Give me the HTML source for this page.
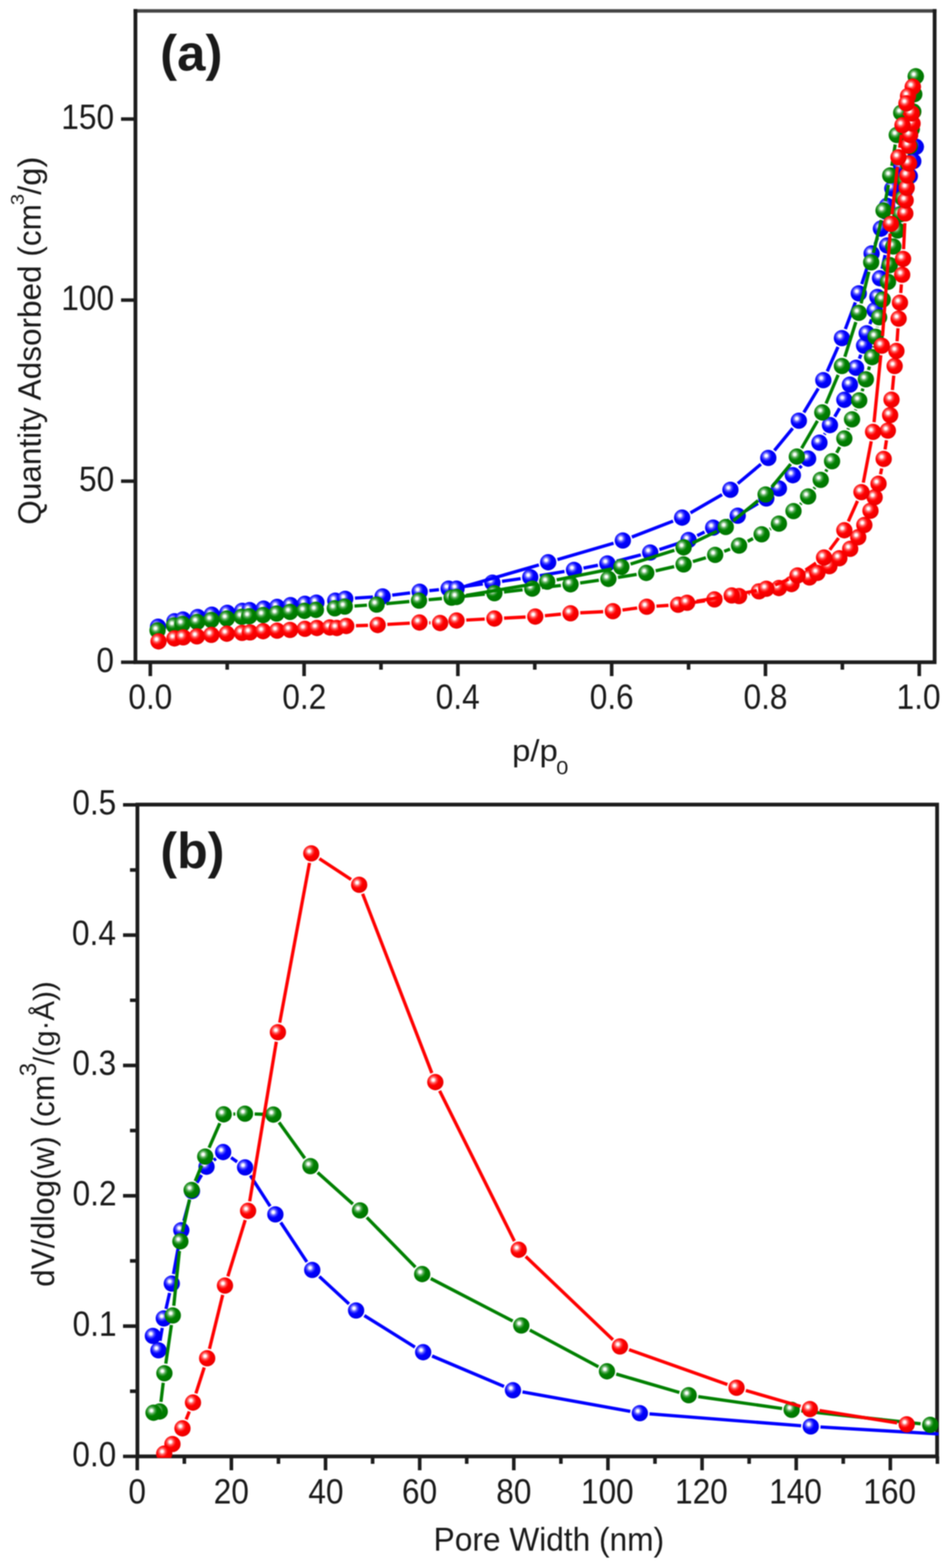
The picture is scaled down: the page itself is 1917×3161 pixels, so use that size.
<!DOCTYPE html>
<html><head><meta charset="utf-8"><title>Isotherm and pore size distribution</title>
<style>
html,body{margin:0;padding:0;background:#fff;}
body{width:1917px;height:3161px;overflow:hidden;}
svg{display:block;filter:blur(1px);}
text{font-family:"Liberation Sans", Arial, sans-serif;fill:#1a1a1a;}
</style></head>
<body>
<svg width="1917" height="3161" viewBox="0 0 1917 3161">
<rect width="1917" height="3161" fill="#fff"/>
<defs>
<radialGradient id="grb" cx="0.372" cy="0.366" r="0.73" fx="0.372" fy="0.366">
<stop offset="0" stop-color="#ffffff"/><stop offset="0.1" stop-color="#ffffff"/>
<stop offset="0.18" stop-color="#a6a6ff"/><stop offset="0.3" stop-color="#4747ff"/>
<stop offset="0.47" stop-color="#0000ff"/><stop offset="0.95" stop-color="#0000e6"/></radialGradient>
<symbol id="mb" overflow="visible"><circle cx="0" cy="0" r="16.4" fill="url(#grb)"/></symbol>
<radialGradient id="grg" cx="0.372" cy="0.366" r="0.73" fx="0.372" fy="0.366">
<stop offset="0" stop-color="#ffffff"/><stop offset="0.1" stop-color="#ffffff"/>
<stop offset="0.18" stop-color="#a6d3a6"/><stop offset="0.3" stop-color="#47a447"/>
<stop offset="0.47" stop-color="#008000"/><stop offset="0.95" stop-color="#007300"/></radialGradient>
<symbol id="mg" overflow="visible"><circle cx="0" cy="0" r="16.4" fill="url(#grg)"/></symbol>
<radialGradient id="grr" cx="0.372" cy="0.366" r="0.73" fx="0.372" fy="0.366">
<stop offset="0" stop-color="#ffffff"/><stop offset="0.1" stop-color="#ffffff"/>
<stop offset="0.18" stop-color="#ffa6a6"/><stop offset="0.3" stop-color="#ff4747"/>
<stop offset="0.47" stop-color="#ff0000"/><stop offset="0.95" stop-color="#e60000"/></radialGradient>
<symbol id="mr" overflow="visible"><circle cx="0" cy="0" r="16.4" fill="url(#grr)"/></symbol>
<clipPath id="clipA"><rect x="270" y="19" width="1617" height="1319"/></clipPath>
<clipPath id="clipB"><rect x="274" y="1619" width="1618" height="1320"/></clipPath>
</defs>
<text transform="translate(322.87 141.64) scale(1.0268 1.0170)" font-size="100" font-weight="bold" fill="#050505">(a)</text>
<text transform="translate(323.24 1750.49) scale(1.0110 1.0245)" font-size="100" font-weight="bold" fill="#050505">(b)</text>
<text transform="translate(1032.15 1534.02) scale(0.6641 0.6181)" font-size="100" font-weight="normal">p/p</text>
<text transform="translate(1121.25 1560.61) scale(0.4375 0.3944)" font-size="100" font-weight="normal">0</text>
<text transform="translate(874.09 3125.98) scale(0.6384 0.6628)" font-size="100" font-weight="normal">Pore Width (nm)</text>
<text transform="translate(82.44 1057.78) rotate(-90) scale(0.6354 0.6553)" font-size="100" font-weight="normal">Quantity Adsorbed (cm</text>
<text transform="translate(47.63 413.42) rotate(-90) scale(0.4043 0.3704)" font-size="100" font-weight="normal">3</text>
<text transform="translate(82.48 392.80) rotate(-90) scale(0.6613 0.6532)" font-size="100" font-weight="normal">/g)</text>
<text transform="translate(109.01 2594.14) rotate(-90) scale(0.6355 0.6426)" font-size="100" font-weight="normal">dV/dlog(w) (cm</text>
<text transform="translate(73.03 2169.43) rotate(-90) scale(0.4830 0.4718)" font-size="100" font-weight="normal">3</text>
<text transform="translate(109.24 2146.70) rotate(-90) scale(0.5949 0.5935)" font-size="100" font-weight="normal">/(g·Å))</text>
<text transform="translate(258.65 1429.20) scale(0.6382 0.6958)" font-size="100" font-weight="normal">0.0</text>
<text transform="translate(568.97 1429.20) scale(0.6382 0.6958)" font-size="100" font-weight="normal">0.2</text>
<text transform="translate(878.33 1429.20) scale(0.6382 0.6958)" font-size="100" font-weight="normal">0.4</text>
<text transform="translate(1188.65 1429.20) scale(0.6382 0.6958)" font-size="100" font-weight="normal">0.6</text>
<text transform="translate(1498.65 1429.20) scale(0.6382 0.6958)" font-size="100" font-weight="normal">0.8</text>
<text transform="translate(1807.37 1429.20) scale(0.6382 0.6958)" font-size="100" font-weight="normal">1.0</text>
<text transform="translate(194.32 1354.80) scale(0.6382 0.6958)" font-size="100" font-weight="normal">0</text>
<text transform="translate(159.22 989.80) scale(0.6382 0.6958)" font-size="100" font-weight="normal">50</text>
<text transform="translate(123.48 624.80) scale(0.6382 0.6958)" font-size="100" font-weight="normal">100</text>
<text transform="translate(123.48 259.80) scale(0.6382 0.6958)" font-size="100" font-weight="normal">150</text>
<text transform="translate(258.83 3031.35) scale(0.6382 0.6958)" font-size="100" font-weight="normal">0</text>
<text transform="translate(430.71 3031.35) scale(0.6382 0.6958)" font-size="100" font-weight="normal">20</text>
<text transform="translate(621.42 3031.35) scale(0.6382 0.6958)" font-size="100" font-weight="normal">40</text>
<text transform="translate(810.21 3031.35) scale(0.6382 0.6958)" font-size="100" font-weight="normal">60</text>
<text transform="translate(1000.28 3031.35) scale(0.6382 0.6958)" font-size="100" font-weight="normal">80</text>
<text transform="translate(1170.89 3031.35) scale(0.6382 0.6958)" font-size="100" font-weight="normal">100</text>
<text transform="translate(1360.64 3031.35) scale(0.6382 0.6958)" font-size="100" font-weight="normal">120</text>
<text transform="translate(1550.39 3031.35) scale(0.6382 0.6958)" font-size="100" font-weight="normal">140</text>
<text transform="translate(1740.14 3031.35) scale(0.6382 0.6958)" font-size="100" font-weight="normal">160</text>
<text transform="translate(145.65 2955.50) scale(0.6382 0.6958)" font-size="100" font-weight="normal">0.0</text>
<text transform="translate(146.29 2692.80) scale(0.6382 0.6958)" font-size="100" font-weight="normal">0.1</text>
<text transform="translate(146.29 2430.10) scale(0.6382 0.6958)" font-size="100" font-weight="normal">0.2</text>
<text transform="translate(145.65 2167.40) scale(0.6382 0.6958)" font-size="100" font-weight="normal">0.3</text>
<text transform="translate(145.01 1904.70) scale(0.6382 0.6958)" font-size="100" font-weight="normal">0.4</text>
<text transform="translate(145.65 1642.00) scale(0.6382 0.6958)" font-size="100" font-weight="normal">0.5</text>
<path d="M269.2 22H1887.8" fill="none" stroke="#444444" stroke-width="7.0"/>
<path d="M273 18.2V1335H1884V18.2" fill="none" stroke="#1c1c1c" stroke-width="7.6" stroke-linejoin="miter"/>
<path d="M303.0 1335.0L303.0 1363.0 M613.0 1335.0L613.0 1363.0 M923.0 1335.0L923.0 1363.0 M1233.0 1335.0L1233.0 1363.0 M1543.0 1335.0L1543.0 1363.0 M1853.0 1335.0L1853.0 1363.0 M458.0 1335.0L458.0 1350.0 M768.0 1335.0L768.0 1350.0 M1078.0 1335.0L1078.0 1350.0 M1388.0 1335.0L1388.0 1350.0 M1698.0 1335.0L1698.0 1350.0 M244.0 1335.0L273.0 1335.0 M244.0 970.0L273.0 970.0 M244.0 605.0L273.0 605.0 M244.0 240.0L273.0 240.0" stroke="#1c1c1c" stroke-width="7.2" fill="none"/>
<rect x="277" y="1622" width="1612" height="1314" fill="none" stroke="#1c1c1c" stroke-width="7.6"/>
<path d="M276.7 2936.0L276.7 2964.0 M466.4 2936.0L466.4 2964.0 M656.2 2936.0L656.2 2964.0 M846.0 2936.0L846.0 2964.0 M1035.7 2936.0L1035.7 2964.0 M1225.5 2936.0L1225.5 2964.0 M1415.2 2936.0L1415.2 2964.0 M1605.0 2936.0L1605.0 2964.0 M1794.7 2936.0L1794.7 2964.0 M371.6 2936.0L371.6 2951.0 M561.3 2936.0L561.3 2951.0 M751.1 2936.0L751.1 2951.0 M940.8 2936.0L940.8 2951.0 M1130.6 2936.0L1130.6 2951.0 M1320.3 2936.0L1320.3 2951.0 M1510.1 2936.0L1510.1 2951.0 M1699.8 2936.0L1699.8 2951.0 M1889.6 2936.0L1889.6 2951.0 M248.0 2936.0L277.0 2936.0 M248.0 2673.3L277.0 2673.3 M248.0 2410.6L277.0 2410.6 M248.0 2147.9L277.0 2147.9 M248.0 1885.2L277.0 1885.2 M248.0 1622.5L277.0 1622.5 M262.0 2804.7L277.0 2804.7 M262.0 2541.9L277.0 2541.9 M262.0 2279.2L277.0 2279.2 M262.0 2016.5L277.0 2016.5 M262.0 1753.8L277.0 1753.8" stroke="#1c1c1c" stroke-width="7.2" fill="none"/>
<g clip-path="url(#clipB)">
<path d="M322.6 2702.9L327.0 2677.0 M334.6 2638.8L341.9 2606.6 M349.7 2568.4L362.1 2499.3 M370.6 2461.3L381.9 2419.8 M397.0 2384.3L406.3 2368.7 M430.9 2339.1L435.2 2335.4 M465.8 2333.6L478.0 2342.2 M504.6 2369.7L544.5 2431.8 M565.9 2464.4L618.6 2544.0 M643.7 2573.4L703.5 2628.6 M734.4 2652.1L836.4 2715.7 M871.0 2733.6L1016.0 2795.0 M1053.2 2806.1L1270.6 2845.3 M1309.2 2850.3L1614.9 2874.2 M1653.8 2876.8L1980.5 2895.9" stroke="#0000ff" stroke-width="6.6" fill="none" stroke-linecap="butt"/>
<use href="#mb" x="2000.0" y="2897.0"/>
<use href="#mb" x="1634.3" y="2875.7"/>
<use href="#mb" x="1289.8" y="2848.8"/>
<use href="#mb" x="1034.0" y="2802.6"/>
<use href="#mb" x="853.0" y="2726.0"/>
<use href="#mb" x="717.8" y="2641.8"/>
<use href="#mb" x="629.4" y="2560.2"/>
<use href="#mb" x="555.1" y="2448.2"/>
<use href="#mb" x="494.0" y="2353.3"/>
<use href="#mb" x="449.8" y="2322.5"/>
<use href="#mb" x="416.3" y="2352.0"/>
<use href="#mb" x="387.0" y="2401.0"/>
<use href="#mb" x="365.5" y="2480.1"/>
<use href="#mb" x="346.3" y="2587.6"/>
<use href="#mb" x="330.2" y="2657.8"/>
<use href="#mb" x="319.4" y="2722.1"/>
<use href="#mb" x="308.2" y="2693.2"/>
</g>
<g clip-path="url(#clipB)">
<path d="M324.4 2826.1L329.0 2787.7 M334.2 2749.0L345.5 2671.1 M350.3 2632.4L361.6 2521.9 M367.8 2483.5L382.1 2418.0 M393.6 2380.9L406.4 2349.7 M421.5 2313.7L443.1 2264.4 M470.4 2245.9L474.3 2245.8 M513.3 2245.8L531.6 2246.4 M562.5 2262.8L614.4 2335.0 M640.3 2363.8L711.3 2427.2 M739.4 2454.2L837.4 2554.5 M868.3 2577.5L1033.5 2663.1 M1068.0 2681.3L1206.3 2755.3 M1242.2 2770.0L1369.5 2807.2 M1407.5 2815.4L1576.5 2839.5 M1615.2 2844.3L1855.8 2870.3" stroke="#008000" stroke-width="6.6" fill="none" stroke-linecap="butt"/>
<use href="#mg" x="1875.2" y="2872.4"/>
<use href="#mg" x="1595.8" y="2842.2"/>
<use href="#mg" x="1388.2" y="2812.7"/>
<use href="#mg" x="1223.5" y="2764.5"/>
<use href="#mg" x="1050.8" y="2672.1"/>
<use href="#mg" x="851.0" y="2568.5"/>
<use href="#mg" x="725.8" y="2440.2"/>
<use href="#mg" x="625.8" y="2350.8"/>
<use href="#mg" x="551.1" y="2247.0"/>
<use href="#mg" x="493.8" y="2245.2"/>
<use href="#mg" x="450.9" y="2246.5"/>
<use href="#mg" x="413.7" y="2331.6"/>
<use href="#mg" x="386.3" y="2399.0"/>
<use href="#mg" x="363.6" y="2502.5"/>
<use href="#mg" x="348.3" y="2651.8"/>
<use href="#mg" x="331.4" y="2768.3"/>
<use href="#mg" x="322.0" y="2845.5"/>
<use href="#mg" x="309.5" y="2848.0"/>
</g>
<g clip-path="url(#clipB)">
<path d="M375.2 2861.4L381.6 2845.6 M394.9 2808.9L411.7 2756.8 M422.2 2719.3L448.9 2610.5 M459.3 2573.0L494.3 2459.6 M503.3 2421.8L557.0 2100.1 M563.8 2061.7L623.9 1739.5 M643.8 1731.0L707.7 1773.0 M731.0 1801.9L870.5 2163.3 M886.2 2199.0L1036.9 2502.0 M1059.7 2533.0L1235.5 2700.8 M1268.0 2720.8L1466.3 2791.2 M1503.4 2803.1L1613.9 2835.2 M1651.9 2843.6L1808.4 2868.4" stroke="#ff0000" stroke-width="6.6" fill="none" stroke-linecap="butt"/>
<use href="#mr" x="1827.7" y="2871.4"/>
<use href="#mr" x="1632.6" y="2840.6"/>
<use href="#mr" x="1484.7" y="2797.7"/>
<use href="#mr" x="1249.6" y="2714.3"/>
<use href="#mr" x="1045.6" y="2519.5"/>
<use href="#mr" x="877.5" y="2181.5"/>
<use href="#mr" x="724.0" y="1783.7"/>
<use href="#mr" x="627.5" y="1720.3"/>
<use href="#mr" x="560.2" y="2080.9"/>
<use href="#mr" x="500.1" y="2441.0"/>
<use href="#mr" x="453.5" y="2591.6"/>
<use href="#mr" x="417.6" y="2738.2"/>
<use href="#mr" x="389.0" y="2827.5"/>
<use href="#mr" x="367.8" y="2879.5"/>
<use href="#mr" x="347.6" y="2911.2"/>
<use href="#mr" x="331.0" y="2930.5"/>
</g>
<g clip-path="url(#clipA)">
<path d="M715.5 1205.8L751.8 1203.5 M790.6 1199.8L826.7 1195.3 M865.4 1190.8L884.9 1188.7 M923.6 1184.1L973.3 1177.3 M1011.9 1171.9L1049.6 1166.5 M1088.1 1160.5L1137.9 1152.1 M1176.2 1145.2L1205.3 1139.6 M1243.3 1131.1L1291.8 1118.6 M1329.2 1107.8L1369.5 1094.7 M1405.4 1079.9L1420.2 1072.5 M1455.1 1055.2L1469.6 1048.1 M1503.8 1029.5L1528.0 1014.9 M1611.4 943.6L1615.8 938.9 M1661.8 875.7L1663.0 873.7 M1682.6 840.0L1692.4 823.0 M1732.3 723.1L1735.2 715.1 M1753.5 653.4L1756.8 643.8 M1778.0 541.9L1784.1 514.1 M1793.4 476.2L1794.8 470.8" stroke="#0000ff" stroke-width="6.6" fill="none" stroke-linecap="butt"/>
<use href="#mb" x="318.6" y="1263.4"/>
<use href="#mb" x="351.7" y="1252.3"/>
<use href="#mb" x="368.8" y="1248.8"/>
<use href="#mb" x="398.5" y="1243.9"/>
<use href="#mb" x="427.0" y="1239.1"/>
<use href="#mb" x="458.2" y="1235.4"/>
<use href="#mb" x="488.3" y="1231.3"/>
<use href="#mb" x="503.3" y="1230.0"/>
<use href="#mb" x="531.5" y="1227.0"/>
<use href="#mb" x="558.6" y="1223.5"/>
<use href="#mb" x="585.7" y="1220.0"/>
<use href="#mb" x="614.7" y="1217.2"/>
<use href="#mb" x="637.8" y="1214.8"/>
<use href="#mb" x="675.9" y="1210.9"/>
<use href="#mb" x="696.0" y="1207.1"/>
<use href="#mb" x="771.3" y="1202.3"/>
<use href="#mb" x="846.0" y="1192.8"/>
<use href="#mb" x="904.3" y="1186.7"/>
<use href="#mb" x="992.6" y="1174.7"/>
<use href="#mb" x="1068.9" y="1163.7"/>
<use href="#mb" x="1157.1" y="1148.9"/>
<use href="#mb" x="1224.4" y="1135.9"/>
<use href="#mb" x="1310.7" y="1113.8"/>
<use href="#mb" x="1388.0" y="1088.7"/>
<use href="#mb" x="1437.6" y="1063.7"/>
<use href="#mb" x="1487.1" y="1039.6"/>
<use href="#mb" x="1544.7" y="1004.8"/>
<use href="#mb" x="1570.1" y="984.7"/>
<use href="#mb" x="1598.2" y="958.0"/>
<use href="#mb" x="1629.0" y="924.5"/>
<use href="#mb" x="1651.8" y="892.4"/>
<use href="#mb" x="1673.0" y="857.0"/>
<use href="#mb" x="1702.0" y="806.0"/>
<use href="#mb" x="1713.2" y="775.4"/>
<use href="#mb" x="1725.7" y="741.4"/>
<use href="#mb" x="1741.8" y="696.8"/>
<use href="#mb" x="1747.1" y="671.8"/>
<use href="#mb" x="1763.2" y="625.4"/>
<use href="#mb" x="1768.6" y="598.6"/>
<use href="#mb" x="1773.9" y="561.0"/>
<use href="#mb" x="1788.2" y="495.0"/>
<use href="#mb" x="1800.0" y="452.0"/>
<use href="#mb" x="1812.0" y="418.0"/>
<use href="#mb" x="1824.0" y="385.0"/>
<use href="#mb" x="1834.0" y="355.0"/>
<use href="#mb" x="1841.0" y="325.0"/>
<use href="#mb" x="1846.0" y="296.0"/>
</g>
<g clip-path="url(#clipA)">
<path d="M1834.3 311.6L1828.3 319.4 M1783.0 433.8L1780.7 442.2 M1768.9 479.3L1763.8 492.7 M1751.0 529.6L1737.1 572.8 M1724.2 609.6L1704.0 663.4 M1689.2 699.4L1667.5 748.6 M1649.5 783.1L1620.4 831.5 M1597.9 863.3L1561.1 908.1 M1533.8 935.8L1487.3 974.8 M1455.5 997.1L1391.9 1033.8 M1356.8 1050.5L1273.7 1082.7 M1236.8 1095.1L1123.7 1128.1 M1086.3 1138.9L939.0 1181.3" stroke="#0000ff" stroke-width="6.6" fill="none" stroke-linecap="butt"/>
<use href="#mb" x="1846.0" y="296.0"/>
<use href="#mb" x="1816.6" y="335.0"/>
<use href="#mb" x="1807.0" y="358.0"/>
<use href="#mb" x="1798.7" y="380.0"/>
<use href="#mb" x="1788.0" y="415.0"/>
<use href="#mb" x="1775.7" y="461.0"/>
<use href="#mb" x="1757.0" y="511.0"/>
<use href="#mb" x="1731.1" y="591.4"/>
<use href="#mb" x="1697.1" y="681.6"/>
<use href="#mb" x="1659.6" y="766.4"/>
<use href="#mb" x="1610.3" y="848.2"/>
<use href="#mb" x="1548.7" y="923.2"/>
<use href="#mb" x="1472.4" y="987.4"/>
<use href="#mb" x="1375.0" y="1043.5"/>
<use href="#mb" x="1255.5" y="1089.7"/>
<use href="#mb" x="1105.0" y="1133.5"/>
<use href="#mb" x="920.3" y="1186.7"/>
</g>
<g clip-path="url(#clipA)">
<path d="M714.5 1221.7L739.7 1220.0 M778.6 1217.0L825.2 1212.6 M864.0 1209.0L890.9 1206.6 M929.7 1202.8L977.2 1197.8 M1016.0 1193.5L1053.5 1189.0 M1092.3 1184.5L1130.7 1180.2 M1169.4 1175.2L1207.1 1169.8 M1245.7 1164.0L1283.4 1158.0 M1321.7 1150.7L1359.0 1142.2 M1396.7 1132.2L1422.9 1124.3 M1459.8 1111.5L1471.6 1107.0 M1507.2 1091.2L1517.9 1085.8 M1551.9 1066.9L1553.5 1065.9 M1613.3 1016.5L1615.2 1014.6 M1640.8 985.3L1642.6 982.8 M1664.6 950.7L1667.0 946.5 M1686.5 912.7L1692.7 901.2 M1709.3 865.9L1710.2 863.4 M1724.4 827.1L1725.1 825.4 M1737.9 788.6L1739.5 783.2 M1750.7 745.8L1752.6 738.8 M1761.2 700.8L1761.7 698.1 M1768.5 659.7L1768.6 658.8" stroke="#008000" stroke-width="6.6" fill="none" stroke-linecap="butt"/>
<use href="#mg" x="317.6" y="1270.9"/>
<use href="#mg" x="350.7" y="1260.8"/>
<use href="#mg" x="367.8" y="1257.8"/>
<use href="#mg" x="397.5" y="1253.8"/>
<use href="#mg" x="426.0" y="1249.8"/>
<use href="#mg" x="457.2" y="1246.8"/>
<use href="#mg" x="487.3" y="1243.4"/>
<use href="#mg" x="502.3" y="1242.4"/>
<use href="#mg" x="530.5" y="1239.8"/>
<use href="#mg" x="557.6" y="1236.8"/>
<use href="#mg" x="584.7" y="1233.7"/>
<use href="#mg" x="613.7" y="1231.5"/>
<use href="#mg" x="636.8" y="1229.5"/>
<use href="#mg" x="674.9" y="1226.3"/>
<use href="#mg" x="695.0" y="1222.9"/>
<use href="#mg" x="759.2" y="1218.8"/>
<use href="#mg" x="844.6" y="1210.8"/>
<use href="#mg" x="910.3" y="1204.8"/>
<use href="#mg" x="996.6" y="1195.8"/>
<use href="#mg" x="1072.9" y="1186.7"/>
<use href="#mg" x="1150.1" y="1178.0"/>
<use href="#mg" x="1226.4" y="1167.0"/>
<use href="#mg" x="1302.7" y="1155.0"/>
<use href="#mg" x="1378.0" y="1137.9"/>
<use href="#mg" x="1441.6" y="1118.6"/>
<use href="#mg" x="1489.8" y="1099.9"/>
<use href="#mg" x="1535.3" y="1077.1"/>
<use href="#mg" x="1570.1" y="1055.7"/>
<use href="#mg" x="1599.5" y="1030.3"/>
<use href="#mg" x="1629.0" y="1000.8"/>
<use href="#mg" x="1654.4" y="967.3"/>
<use href="#mg" x="1677.2" y="929.9"/>
<use href="#mg" x="1702.0" y="884.0"/>
<use href="#mg" x="1717.5" y="845.3"/>
<use href="#mg" x="1732.0" y="807.2"/>
<use href="#mg" x="1745.4" y="764.6"/>
<use href="#mg" x="1757.9" y="720.0"/>
<use href="#mg" x="1765.0" y="678.9"/>
<use href="#mg" x="1772.1" y="639.6"/>
<use href="#mg" x="1779.3" y="603.9"/>
<use href="#mg" x="1790.0" y="568.2"/>
<use href="#mg" x="1793.6" y="534.3"/>
<use href="#mg" x="1800.7" y="496.8"/>
<use href="#mg" x="1809.6" y="464.6"/>
<use href="#mg" x="1815.0" y="432.0"/>
<use href="#mg" x="1820.0" y="400.0"/>
<use href="#mg" x="1825.0" y="365.0"/>
<use href="#mg" x="1830.0" y="330.0"/>
<use href="#mg" x="1834.0" y="295.0"/>
<use href="#mg" x="1838.0" y="260.0"/>
<use href="#mg" x="1841.0" y="225.0"/>
<use href="#mg" x="1843.0" y="190.0"/>
<use href="#mg" x="1846.0" y="154.0"/>
</g>
<g clip-path="url(#clipA)">
<path d="M1838.7 172.1L1823.9 209.3 M1812.8 246.5L1811.5 253.1 M1804.6 291.4L1797.6 334.5 M1790.8 372.9L1784.7 405.3 M1776.5 443.5L1760.6 509.9 M1751.4 547.8L1735.8 611.8 M1725.2 649.3L1703.0 719.3 M1689.5 755.9L1665.1 813.5 M1647.8 848.4L1615.9 903.6 M1593.8 935.5L1555.7 981.8 M1528.2 1009.1L1478.1 1050.1 M1445.4 1070.9L1395.6 1095.0 M1359.4 1109.3L1271.1 1137.1 M1233.4 1146.7L1122.1 1168.9 M1083.8 1175.9L939.7 1200.3" stroke="#008000" stroke-width="6.6" fill="none" stroke-linecap="butt"/>
<use href="#mg" x="1846.0" y="154.0"/>
<use href="#mg" x="1816.6" y="227.4"/>
<use href="#mg" x="1807.7" y="272.2"/>
<use href="#mg" x="1794.5" y="353.7"/>
<use href="#mg" x="1781.0" y="424.5"/>
<use href="#mg" x="1756.1" y="528.9"/>
<use href="#mg" x="1731.1" y="630.7"/>
<use href="#mg" x="1697.1" y="737.9"/>
<use href="#mg" x="1657.5" y="831.5"/>
<use href="#mg" x="1606.2" y="920.5"/>
<use href="#mg" x="1543.3" y="996.8"/>
<use href="#mg" x="1463.0" y="1062.4"/>
<use href="#mg" x="1378.0" y="1103.5"/>
<use href="#mg" x="1252.5" y="1142.9"/>
<use href="#mg" x="1103.0" y="1172.7"/>
<use href="#mg" x="920.5" y="1203.5"/>
</g>
<g clip-path="url(#clipA)">
<path d="M717.5 1261.4L741.8 1260.6 M780.8 1258.8L826.1 1256.2 M865.1 1255.5L867.7 1255.5 M939.8 1250.0L977.1 1248.0 M1016.1 1246.1L1059.5 1243.9 M1098.4 1241.2L1130.7 1238.1 M1169.6 1235.4L1215.9 1233.1 M1254.7 1229.7L1284.4 1225.7 M1323.2 1222.0L1347.5 1220.4 M1386.3 1216.3L1420.9 1211.2 M1459.5 1205.7L1470.5 1204.2 M1508.8 1197.2L1511.0 1196.6 M1549.2 1189.0L1550.9 1188.7 M1774.9 956.1L1777.3 944.3 M1784.1 905.9L1786.9 887.4 M1798.9 786.3L1801.6 757.3 M1808.3 688.0L1810.1 661.8 M1815.7 590.8L1817.0 573.3 M1821.4 502.3L1823.9 449.8 M1838.7 209.2L1839.2 194.5" stroke="#ff0000" stroke-width="6.6" fill="none" stroke-linecap="butt"/>
<use href="#mr" x="319.6" y="1293.0"/>
<use href="#mr" x="351.7" y="1287.0"/>
<use href="#mr" x="369.4" y="1284.9"/>
<use href="#mr" x="396.9" y="1282.9"/>
<use href="#mr" x="426.0" y="1279.9"/>
<use href="#mr" x="457.2" y="1277.5"/>
<use href="#mr" x="487.9" y="1275.9"/>
<use href="#mr" x="503.9" y="1274.9"/>
<use href="#mr" x="530.4" y="1272.5"/>
<use href="#mr" x="558.6" y="1271.3"/>
<use href="#mr" x="584.7" y="1269.9"/>
<use href="#mr" x="614.7" y="1267.6"/>
<use href="#mr" x="638.8" y="1266.0"/>
<use href="#mr" x="664.9" y="1265.0"/>
<use href="#mr" x="678.9" y="1266.0"/>
<use href="#mr" x="698.0" y="1262.0"/>
<use href="#mr" x="761.3" y="1260.0"/>
<use href="#mr" x="845.6" y="1255.0"/>
<use href="#mr" x="887.2" y="1256.0"/>
<use href="#mr" x="920.3" y="1251.0"/>
<use href="#mr" x="996.6" y="1247.0"/>
<use href="#mr" x="1079.0" y="1243.0"/>
<use href="#mr" x="1150.1" y="1236.3"/>
<use href="#mr" x="1235.4" y="1232.2"/>
<use href="#mr" x="1303.7" y="1223.2"/>
<use href="#mr" x="1367.0" y="1219.2"/>
<use href="#mr" x="1440.2" y="1208.3"/>
<use href="#mr" x="1489.8" y="1201.6"/>
<use href="#mr" x="1530.0" y="1192.2"/>
<use href="#mr" x="1570.1" y="1185.5"/>
<use href="#mr" x="1595.5" y="1177.5"/>
<use href="#mr" x="1631.7" y="1164.1"/>
<use href="#mr" x="1647.7" y="1154.8"/>
<use href="#mr" x="1671.8" y="1141.4"/>
<use href="#mr" x="1691.9" y="1125.3"/>
<use href="#mr" x="1713.8" y="1106.4"/>
<use href="#mr" x="1730.0" y="1083.0"/>
<use href="#mr" x="1742.3" y="1058.3"/>
<use href="#mr" x="1754.7" y="1029.7"/>
<use href="#mr" x="1763.1" y="1002.5"/>
<use href="#mr" x="1770.9" y="975.2"/>
<use href="#mr" x="1781.3" y="925.2"/>
<use href="#mr" x="1789.7" y="868.1"/>
<use href="#mr" x="1794.3" y="836.9"/>
<use href="#mr" x="1797.1" y="805.7"/>
<use href="#mr" x="1803.4" y="737.9"/>
<use href="#mr" x="1807.0" y="707.5"/>
<use href="#mr" x="1811.4" y="642.3"/>
<use href="#mr" x="1814.1" y="610.2"/>
<use href="#mr" x="1818.6" y="553.9"/>
<use href="#mr" x="1820.4" y="521.8"/>
<use href="#mr" x="1824.9" y="430.3"/>
<use href="#mr" x="1825.6" y="404.0"/>
<use href="#mr" x="1827.7" y="378.5"/>
<use href="#mr" x="1829.0" y="353.7"/>
<use href="#mr" x="1832.5" y="329.5"/>
<use href="#mr" x="1831.8" y="293.6"/>
<use href="#mr" x="1834.6" y="272.2"/>
<use href="#mr" x="1839.5" y="249.1"/>
<use href="#mr" x="1837.9" y="228.7"/>
<use href="#mr" x="1840.0" y="175.0"/>
</g>
<g clip-path="url(#clipA)">
<path d="M1823.7 227.6L1822.7 233.1 M1816.8 271.6L1813.5 297.8 M1808.9 336.5L1798.0 432.1 M1794.3 470.9L1779.0 677.4 M1775.5 716.2L1761.9 851.2 M1756.2 889.7L1740.2 973.0 M1728.5 1009.9L1710.0 1051.2 M1690.4 1084.6L1672.7 1108.4 M1644.9 1134.9L1623.8 1149.2 M1589.7 1167.7L1562.6 1179.3 M1525.6 1190.6L1494.1 1196.6 M1455.8 1203.5L1404.2 1212.0" stroke="#ff0000" stroke-width="6.6" fill="none" stroke-linecap="butt"/>
<use href="#mr" x="1840.0" y="175.0"/>
<use href="#mr" x="1830.4" y="193.4"/>
<use href="#mr" x="1827.2" y="208.4"/>
<use href="#mr" x="1819.2" y="252.3"/>
<use href="#mr" x="1811.1" y="317.1"/>
<use href="#mr" x="1795.8" y="451.5"/>
<use href="#mr" x="1777.5" y="696.8"/>
<use href="#mr" x="1759.9" y="870.6"/>
<use href="#mr" x="1736.5" y="992.1"/>
<use href="#mr" x="1702.0" y="1069.0"/>
<use href="#mr" x="1661.1" y="1124.0"/>
<use href="#mr" x="1607.6" y="1160.1"/>
<use href="#mr" x="1544.7" y="1186.9"/>
<use href="#mr" x="1475.0" y="1200.3"/>
<use href="#mr" x="1385.0" y="1215.2"/>
</g>
</svg>
</body></html>
